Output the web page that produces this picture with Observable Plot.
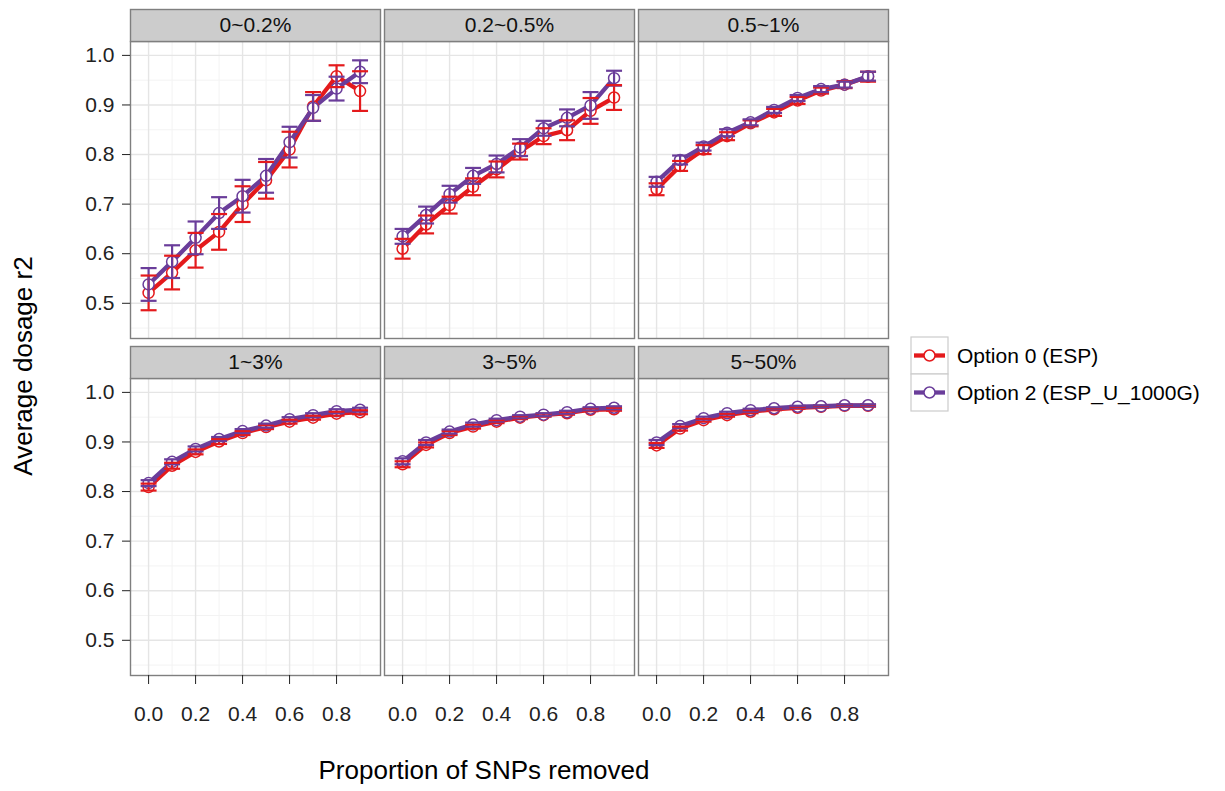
<!DOCTYPE html>
<html><head><meta charset="utf-8">
<script src="https://cdn.jsdelivr.net/npm/d3@7"></script>
<script src="https://cdn.jsdelivr.net/npm/@observablehq/plot@0.6"></script>
<style>
body{margin:0;background:#fff;font-family:"Liberation Sans",Arial,Helvetica,sans-serif;}
#wrap{position:relative;width:1225px;height:791px;overflow:hidden;}
.lab{position:absolute;color:#000;white-space:nowrap;line-height:1;}
</style></head><body><div id="wrap"></div>
<script>
// ---------- data ----------
const bins = ["0~0.2%", "0.2~0.5%", "0.5~1%", "1~3%", "3~5%", "5~50%"];
const xs = [0, 0.1, 0.2, 0.3, 0.4, 0.5, 0.6, 0.7, 0.8, 0.9];
const seriesNames = ["Option 0 (ESP)", "Option 2 (ESP_U_1000G)"];
const seriesColors = ["#e41a1c", "#6a3d9a"];

// Option 0 (ESP): mean per panel
const opt0Mean = [
  [0.521, 0.562, 0.607, 0.644, 0.700, 0.748, 0.810, 0.897, 0.958, 0.928],
  [0.610, 0.659, 0.698, 0.735, 0.770, 0.806, 0.837, 0.849, 0.888, 0.915],
  [0.730, 0.777, 0.810, 0.837, 0.863, 0.885, 0.909, 0.929, 0.941, 0.957],
  [0.809, 0.852, 0.880, 0.901, 0.918, 0.930, 0.941, 0.949, 0.957, 0.960],
  [0.855, 0.894, 0.918, 0.931, 0.941, 0.949, 0.954, 0.958, 0.965, 0.966],
  [0.893, 0.927, 0.944, 0.954, 0.961, 0.966, 0.969, 0.971, 0.973, 0.973]
];
// Option 0 (ESP): error half-width
const opt0Err = [
  [0.035, 0.034, 0.035, 0.036, 0.036, 0.037, 0.036, 0.029, 0.022, 0.040],
  [0.020, 0.018, 0.017, 0.017, 0.016, 0.016, 0.016, 0.020, 0.026, 0.025],
  [0.012, 0.010, 0.009, 0.008, 0.006, 0.007, 0.007, 0.006, 0.007, 0.010],
  [0.007, 0.006, 0.005, 0.005, 0.004, 0.004, 0.004, 0.004, 0.004, 0.004],
  [0.006, 0.005, 0.004, 0.004, 0.003, 0.003, 0.003, 0.003, 0.003, 0.003],
  [0.005, 0.004, 0.003, 0.003, 0.003, 0.002, 0.002, 0.002, 0.002, 0.002]
];
// Option 2 (ESP_U_1000G): mean per panel
const opt2Mean = [
  [0.538, 0.584, 0.632, 0.682, 0.716, 0.757, 0.825, 0.894, 0.933, 0.967],
  [0.635, 0.678, 0.720, 0.757, 0.781, 0.814, 0.853, 0.874, 0.899, 0.954],
  [0.745, 0.789, 0.816, 0.844, 0.865, 0.890, 0.914, 0.932, 0.941, 0.958],
  [0.817, 0.860, 0.886, 0.906, 0.922, 0.933, 0.946, 0.954, 0.962, 0.965],
  [0.861, 0.899, 0.921, 0.935, 0.944, 0.951, 0.955, 0.960, 0.967, 0.969],
  [0.899, 0.932, 0.948, 0.958, 0.964, 0.968, 0.971, 0.972, 0.974, 0.974]
];
// Option 2 (ESP_U_1000G): error half-width
const opt2Err = [
  [0.033, 0.033, 0.033, 0.032, 0.033, 0.034, 0.031, 0.026, 0.024, 0.023],
  [0.015, 0.017, 0.017, 0.016, 0.017, 0.017, 0.015, 0.017, 0.027, 0.015],
  [0.010, 0.009, 0.008, 0.007, 0.006, 0.006, 0.006, 0.006, 0.006, 0.009],
  [0.006, 0.005, 0.005, 0.004, 0.004, 0.004, 0.004, 0.004, 0.004, 0.004],
  [0.006, 0.005, 0.004, 0.004, 0.003, 0.003, 0.003, 0.003, 0.003, 0.003],
  [0.005, 0.004, 0.003, 0.003, 0.003, 0.002, 0.002, 0.002, 0.002, 0.002]
];

const xTicks = [0, 0.2, 0.4, 0.6, 0.8];
const xMinor = [0.1, 0.3, 0.5, 0.7, 0.9];
const yTicks = [0.5, 0.6, 0.7, 0.8, 0.9, 1.0];
const yMinor = [0.45, 0.55, 0.65, 0.75, 0.85, 0.95];
const xTitle = "Proportion of SNPs removed";
const yTitle = "Average dosage r2";

// ---------- tables ----------
const rows = [];
const groups = [[opt0Mean, opt0Err], [opt2Mean, opt2Err]];
bins.forEach((b, i) => {
  groups.forEach(([m, e], k) => {
    xs.forEach((x, j) => {
      rows.push({bin: b, col: i % 3, row: Math.floor(i / 3), series: seriesNames[k],
        x, y: m[i][j], lo: m[i][j] - e[i][j], hi: m[i][j] + e[i][j]});
    });
  });
});
const panels = bins.map((b, i) => ({bin: b, col: i % 3, row: Math.floor(i / 3)}));

// ---------- layout ----------
const W = 1225, H = 791, ML = 130, MR = 337, MT = 41, MB = 116;
const ROWGAP = 40, COLGAP = 4, STRIP = 32;
const panelH = (H - MT - MB - ROWGAP) / 2;
const capHalf = 0.034;
const fac = {fx: "col", fy: "row"};
const FONT = '"Liberation Sans", Arial, Helvetica, sans-serif';

const plot = Plot.plot({
  width: W, height: H,
  marginLeft: ML, marginRight: MR, marginTop: MT, marginBottom: MB,
  style: {fontFamily: FONT, color: "#222", background: "#fff"},
  fx: {domain: [0, 1, 2], paddingInner: COLGAP / ((W - ML - MR - 2 * COLGAP) / 3 + COLGAP), paddingOuter: 0, round: false, axis: null},
  fy: {domain: [0, 1], paddingInner: ROWGAP / (panelH + ROWGAP), paddingOuter: 0, round: false, axis: null},
  x: {domain: [-0.077, 0.987]},
  y: {domain: [0.429, 1.028]},
  color: {domain: seriesNames, range: seriesColors},
  marks: [
    Plot.gridX({ticks: xMinor, stroke: "#f3f3f3", strokeOpacity: 1, strokeWidth: 1}),
    Plot.gridY({ticks: yMinor, stroke: "#f3f3f3", strokeOpacity: 1, strokeWidth: 1}),
    Plot.gridX({ticks: xTicks, stroke: "#e5e5e5", strokeOpacity: 1, strokeWidth: 1.4}),
    Plot.gridY({ticks: yTicks, stroke: "#e5e5e5", strokeOpacity: 1, strokeWidth: 1.4}),
    Plot.line(rows, {...fac, x: "x", y: "y", z: "series", stroke: "series", strokeWidth: 4.3}),
    Plot.dot(rows, {...fac, x: "x", y: "y", stroke: "series", fill: "white", r: 5.5, strokeWidth: 1.5}),
    Plot.ruleX(rows, {...fac, x: "x", y1: "lo", y2: "hi", stroke: "series", strokeWidth: 2.2}),
    Plot.link(rows, {...fac, x1: d => d.x - capHalf, x2: d => d.x + capHalf, y1: "lo", y2: "lo", stroke: "series", strokeWidth: 2.2}),
    Plot.link(rows, {...fac, x1: d => d.x - capHalf, x2: d => d.x + capHalf, y1: "hi", y2: "hi", stroke: "series", strokeWidth: 2.2}),
    Plot.frame({stroke: "#7f7f7f", strokeWidth: 1.4}),
    // strip above each panel
    Plot.frame({fill: "#cccccc", stroke: "#7f7f7f", strokeWidth: 1.4, insetTop: -STRIP, insetBottom: panelH}),
    Plot.text(panels, {...fac, text: "bin", frameAnchor: "top", lineAnchor: "middle", dy: -STRIP / 2, fontSize: 21, fill: "#111"}),
    Plot.axisY({ticks: yTicks, tickFormat: d3.format(".1f"), tickSize: 8, tickPadding: 8, fontSize: 21, label: null}),
    Plot.axisX({ticks: xTicks, tickFormat: d3.format(".1f"), tickSize: 9, tickPadding: 22, fontSize: 21, label: null})
  ]
});

const wrap = document.getElementById("wrap");
plot.style.position = "absolute";
plot.style.left = "0px";
plot.style.top = "0px";
wrap.appendChild(plot);

// axis titles
const xl = document.createElement("div");
xl.className = "lab"; xl.textContent = xTitle;
xl.style.fontSize = "26px";
xl.style.left = "484px"; xl.style.top = "757px"; xl.style.transform = "translateX(-50%)";
wrap.appendChild(xl);
const yl = document.createElement("div");
yl.className = "lab"; yl.textContent = yTitle;
yl.style.fontSize = "26px";
yl.style.left = "23px"; yl.style.top = "366px"; yl.style.transform = "translate(-50%,-50%) rotate(-90deg)";
wrap.appendChild(yl);

// legend
const color = plot.scale("color");
const lg = d3.select(wrap).append("svg")
  .attr("width", 315).attr("height", 80)
  .style("position", "absolute").style("left", "910px").style("top", "336px")
  .style("font-family", FONT);
const key = 37;
seriesNames.forEach((name, i) => {
  const g = lg.append("g").attr("transform", `translate(1,${1 + i * key})`);
  g.append("rect").attr("width", key).attr("height", key).attr("fill", "white").attr("stroke", "#cccccc").attr("stroke-width", 1.2);
  g.append("line").attr("x1", 3).attr("x2", key - 3).attr("y1", key / 2).attr("y2", key / 2)
    .attr("stroke", color.apply(name)).attr("stroke-width", 4.3);
  g.append("circle").attr("cx", key / 2).attr("cy", key / 2).attr("r", 5.5).attr("fill", "white")
    .attr("stroke", color.apply(name)).attr("stroke-width", 1.5);
  g.append("text").attr("x", key + 9).attr("y", key / 2).attr("dy", "0.35em")
    .attr("font-size", 21).attr("fill", "#000").text(name);
});
</script></body></html>
